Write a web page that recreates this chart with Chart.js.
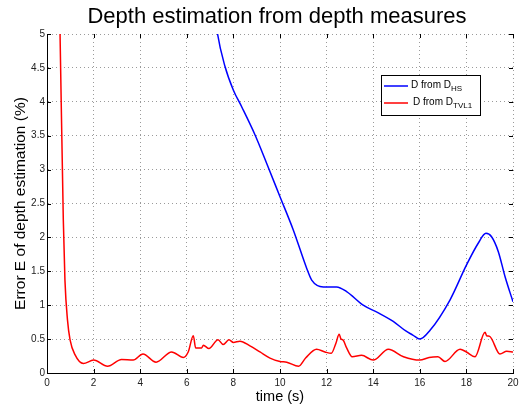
<!DOCTYPE html>
<html>
<head>
<meta charset="utf-8">
<script src="https://cdn.jsdelivr.net/npm/chart.js@4/dist/chart.umd.min.js"></script>
<style>
  html, body { margin: 0; padding: 0; background: #fff; }
  #wrap { width: 530px; height: 406px; }
</style>
</head>
<body>
<div id="wrap"><canvas id="depth-chart" width="530" height="406"></canvas></div>
<script>
// values
const blueTime  = [7.0, 7.32, 7.64, 8.0, 8.35, 8.93, 9.43, 10.0, 10.57, 11.14, 11.36, 11.86, 12.43, 12.86, 13.57, 14.2, 14.86, 15.4, 15.7, 16.0, 16.44, 17.3, 18.0, 18.5, 18.84, 19.08, 19.37, 19.66, 20.0];
const blueError = [5.9, 5.0, 4.52, 4.17, 3.93, 3.51, 3.09, 2.6, 2.11, 1.55, 1.37, 1.27, 1.27, 1.2, 1.0, 0.89, 0.76, 0.62, 0.56, 0.5, 0.63, 1.08, 1.59, 1.91, 2.06, 2.01, 1.79, 1.42, 1.05];

const redTime  = [0.45, 0.56, 0.7, 0.77, 0.88, 0.99, 1.2, 1.56, 2.0, 2.6, 3.2, 3.7, 4.12, 4.68, 5.35, 5.85, 6.06, 6.28, 6.38, 6.64, 6.71, 6.95, 7.34, 7.56, 7.81, 8.0, 8.28, 8.71, 9.14, 9.57, 10.0, 10.29, 10.8, 11.1, 11.57, 11.93, 12.2, 12.4, 12.54, 12.62, 12.7, 12.86, 13.1, 13.5, 14.0, 14.65, 15.3, 16.0, 16.4, 16.78, 17.08, 17.73, 18.0, 18.37, 18.8, 18.87, 19.0, 19.44, 19.73, 20.0];
const redError = [7.0, 5.0, 2.26, 1.37, 0.78, 0.49, 0.27, 0.14, 0.19, 0.10, 0.20, 0.19, 0.28, 0.16, 0.31, 0.23, 0.31, 0.55, 0.37, 0.37, 0.41, 0.36, 0.49, 0.42, 0.49, 0.45, 0.47, 0.40, 0.31, 0.22, 0.17, 0.16, 0.10, 0.22, 0.35, 0.31, 0.29, 0.44, 0.57, 0.50, 0.49, 0.37, 0.24, 0.26, 0.19, 0.35, 0.24, 0.19, 0.23, 0.24, 0.17, 0.35, 0.31, 0.24, 0.60, 0.55, 0.54, 0.28, 0.32, 0.31];

const seriesLabels = [['D from D', 'HS'], ['D from D', 'TVL1']];
const seriesColors = ['#0000ff', '#ff0000'];

const xTicks = [0, 2, 4, 6, 8, 10, 12, 14, 16, 18, 20];
const yTicks = [0, 0.5, 1, 1.5, 2, 2.5, 3, 3.5, 4, 4.5, 5];

const chartTitle = 'Depth estimation from depth measures';

const toPoints = (xs, ys) => xs.map((x, i) => ({ x: x, y: ys[i] }));

const FONT = 'Liberation Sans, Arial, Helvetica, sans-serif';

// title centred on the plot, inward tick marks on all four sides
const matlabFrame = {
    id: 'matlabFrame',
    afterDraw(chart) {
        const ctx = chart.ctx;
        const area = chart.chartArea;
        const xs = chart.scales.x, ys = chart.scales.y;
        ctx.save();
        ctx.fillStyle = '#000';
        ctx.font = '22px ' + FONT;
        ctx.textAlign = 'center';
        ctx.textBaseline = 'alphabetic';
        ctx.fillText(chartTitle, (area.left + area.right) / 2 - 3, 23);

        ctx.strokeStyle = '#000';
        ctx.lineWidth = 1;
        ctx.beginPath();
        xTicks.forEach(v => {
            const px = Math.round(xs.getPixelForValue(v)) + 0.5;
            ctx.moveTo(px, area.bottom); ctx.lineTo(px, area.bottom - 4);
            ctx.moveTo(px, area.top); ctx.lineTo(px, area.top + 4);
        });
        yTicks.forEach(v => {
            const py = Math.round(ys.getPixelForValue(v)) + 0.5;
            ctx.moveTo(area.left, py); ctx.lineTo(area.left + 4, py);
            ctx.moveTo(area.right, py); ctx.lineTo(area.right - 4, py);
        });
        ctx.stroke();
        ctx.restore();
    },
    afterDatasetsDraw(chart) {
        // legend box with subscripts
        const ctx = chart.ctx;
        const area = chart.chartArea;
        const left = area.right - 132, top = area.top + 41;
        const w = 99, h = 40;
        ctx.save();
        ctx.fillStyle = '#fff';
        ctx.fillRect(left, top, w, h);
        ctx.strokeStyle = '#000';
        ctx.lineWidth = 1;
        ctx.strokeRect(left + 0.5, top + 0.5, w, h);
        seriesLabels.forEach((lab, i) => {
            const y = top + 11 + i * 17;
            ctx.strokeStyle = seriesColors[i];
            ctx.lineWidth = 1.5;
            ctx.beginPath();
            ctx.moveTo(left + 3, y);
            ctx.lineTo(left + 27, y);
            ctx.stroke();
            ctx.fillStyle = '#000';
            ctx.font = '10px ' + FONT;
            ctx.textBaseline = 'middle';
            ctx.textAlign = 'left';
            const tx = left + 30 + i * 2;
            ctx.fillText(lab[0], tx, y - 1);
            const mw = ctx.measureText(lab[0]).width;
            ctx.font = '8px ' + FONT;
            ctx.fillText(lab[1], tx + mw, y + 3);
        });
        ctx.restore();
    }
};

const depthChart = new Chart(document.getElementById('depth-chart').getContext('2d'), {
    type: 'line',
    data: {
        datasets: [{
            label: seriesLabels[0].join(''),
            data: toPoints(blueTime, blueError),
            borderColor: seriesColors[0],
            borderWidth: 1.5,
            pointRadius: 0,
            fill: false,
            cubicInterpolationMode: 'monotone'
        }, {
            label: seriesLabels[1].join(''),
            data: toPoints(redTime, redError),
            borderColor: seriesColors[1],
            borderWidth: 1.5,
            pointRadius: 0,
            fill: false,
            cubicInterpolationMode: 'monotone'
        }]
    },
    options: {
        responsive: false,
        animation: false,
        layout: { padding: { left: 0, right: 17, top: 34, bottom: 0 } },
        plugins: {
            legend: { display: false },
            tooltip: { enabled: false },
            title: { display: false }
        },
        scales: {
            x: {
                type: 'linear',
                min: 0,
                max: 20,
                afterBuildTicks: s => { s.ticks = xTicks.map(v => ({ value: v })); },
                afterFit: s => { s.height = 33; },
                ticks: {
                    color: '#222',
                    font: { family: FONT, size: 10 },
                    padding: 4,
                    maxRotation: 0,
                    callback: v => String(v)
                },
                grid: { color: '#9a9a9a', lineWidth: 1, drawTicks: false },
                border: { color: '#000', width: 1, dash: [1, 3] },
                title: {
                    display: true,
                    text: 'time (s)',
                    color: '#000',
                    font: { family: FONT, size: 14.5 },
                    padding: { top: 1, bottom: 0 }
                }
            },
            y: {
                type: 'linear',
                min: 0,
                max: 5,
                afterBuildTicks: s => { s.ticks = yTicks.map(v => ({ value: v })); },
                afterFit: s => { s.width = 47; },
                ticks: {
                    color: '#222',
                    font: { family: FONT, size: 10 },
                    padding: 2,
                    callback: v => String(v)
                },
                grid: { color: '#9a9a9a', lineWidth: 1, drawTicks: false },
                border: { color: '#000', width: 1, dash: [1, 3] },
                title: {
                    display: true,
                    text: 'Error E of depth estimation (%)',
                    color: '#000',
                    font: { family: FONT, size: 15.5 },
                    padding: { top: 11, bottom: 0 }
                }
            }
        }
    },
    plugins: [matlabFrame]
});
</script>
</body>
</html>
